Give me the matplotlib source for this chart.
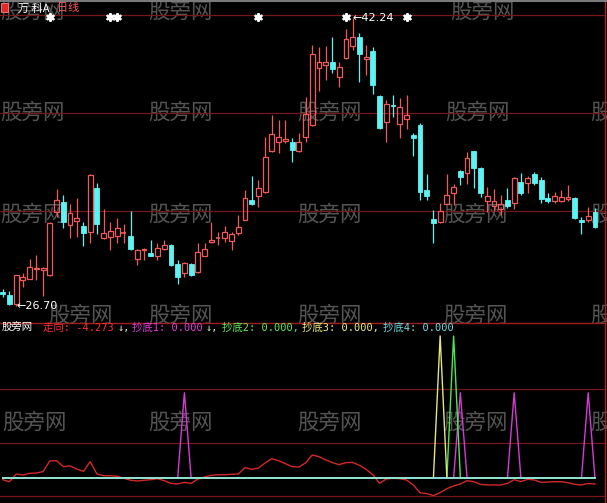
import matplotlib
matplotlib.use("Agg")
import matplotlib.pyplot as plt
from matplotlib.patches import Rectangle
from matplotlib.lines import Line2D
from matplotlib.transforms import blended_transform_factory

# ---- daily bars: 万科A ----
opens = [27.45, 27.29, 26.81, 28.09, 28.17, 28.68, 28.64, 28.36, 31.79, 32.33,
         31.05, 31.30, 31.01, 30.69, 33.05, 30.35, 30.44, 30.48, 30.62, 30.48,
         29.22, 29.72, 29.58, 29.40, 29.79, 29.99, 28.97, 28.50, 28.97, 28.55,
         29.40, 30.17, 30.35, 30.35, 30.22, 30.62, 31.34, 32.42, 32.65, 32.87,
         35.08, 35.57, 35.60, 35.53, 35.06, 35.80, 36.47, 39.53, 39.70, 39.88,
         39.04, 40.07, 40.73, 41.23, 40.03, 40.46, 38.03, 36.61, 37.55, 36.52,
         36.79, 35.93, 36.47, 32.96, 31.39, 31.25, 32.20, 32.78, 34.00, 33.86,
         35.06, 34.13, 32.38, 32.10, 31.92, 32.42, 32.24, 33.37, 33.32, 33.82,
         33.50, 32.51, 32.37, 32.37, 32.49, 32.54, 31.34, 31.34, 31.79]
highs = [27.64, 27.51, 28.38, 28.50, 29.24, 29.45, 28.80, 31.22, 33.01, 32.69,
         32.20, 32.51, 31.25, 33.80, 33.32, 31.92, 31.25, 31.43, 31.12, 31.82,
         29.79, 29.83, 30.26, 30.08, 30.26, 30.02, 29.18, 29.09, 29.00, 30.08,
         30.08, 31.25, 30.71, 31.01, 30.71, 31.61, 32.96, 33.71, 33.50, 35.83,
         37.01, 36.74, 36.74, 35.75, 36.02, 37.99, 40.78, 40.69, 40.73, 41.23,
         39.88, 41.63, 42.24, 41.43, 40.78, 40.69, 38.06, 37.82, 38.08, 37.91,
         38.08, 36.05, 36.56, 33.82, 31.88, 32.27, 33.82, 33.28, 34.04, 35.03,
         35.08, 34.22, 33.14, 33.00, 32.69, 33.08, 33.64, 33.86, 33.73, 33.91,
         33.64, 32.78, 32.87, 32.96, 33.23, 32.56, 31.52, 32.06, 31.97]
lows = [27.19, 26.75, 26.70, 27.71, 28.14, 28.10, 27.26, 28.33, 31.52, 30.89,
        30.35, 30.41, 29.94, 30.12, 30.58, 30.30, 29.72, 30.08, 30.08, 29.72,
        28.91, 29.18, 29.38, 29.18, 29.72, 28.88, 27.89, 28.25, 28.32, 28.46,
        29.38, 30.12, 29.99, 30.17, 29.72, 30.52, 31.32, 32.15, 32.03, 32.78,
        35.03, 34.94, 35.48, 34.49, 35.03, 35.57, 36.41, 38.32, 38.89, 39.29,
        38.53, 40.01, 40.51, 38.80, 39.16, 38.14, 36.25, 35.57, 36.91, 35.75,
        36.23, 34.79, 32.42, 32.42, 30.12, 31.19, 32.18, 32.15, 33.23, 33.28,
        33.05, 32.60, 31.79, 31.84, 31.61, 31.97, 31.92, 32.69, 32.78, 33.23,
        32.24, 32.27, 32.24, 32.33, 32.37, 31.41, 30.58, 31.25, 30.89]
closes = [27.33, 26.81, 28.36, 28.26, 28.79, 28.75, 28.75, 31.19, 32.42, 31.25,
          31.70, 31.43, 30.62, 33.77, 31.12, 30.62, 30.73, 30.89, 30.65, 29.76,
          29.72, 29.79, 29.40, 29.81, 29.99, 28.91, 28.28, 29.00, 28.37, 29.63,
          29.76, 30.26, 30.41, 30.71, 30.58, 30.95, 32.51, 32.20, 33.05, 34.76,
          35.96, 35.80, 35.69, 35.12, 35.53, 37.06, 40.28, 39.85, 39.85, 39.47,
          39.58, 41.09, 41.20, 40.28, 40.12, 38.62, 36.29, 37.58, 37.49, 37.42,
          37.01, 35.78, 32.87, 32.65, 31.16, 31.83, 32.69, 33.14, 33.68, 34.67,
          34.13, 32.81, 32.64, 32.37, 32.19, 32.11, 33.59, 32.78, 33.59, 33.35,
          32.46, 32.37, 32.64, 32.60, 32.56, 31.43, 31.25, 31.56, 30.95]

# signal days marked with a star above the bars
star_days = [7, 16, 17, 38, 51, 60]

# ---- indicator 股旁网 ----
zouxiang = [-1.2, -2.6, 2.8, 2.1, 3.3, 3.5, 4.5, 12.0, 12.2, 8.0,
            8.5, 6.3, 4.7, 11.5, 2.8, 1.6, 1.6, 1.2, -0.2, -1.6,
            -2.1, -1.6, -1.2, -0.5, -1.9, -3.8, -4.2, -3.1, -3.8, -0.7,
            0.7, 1.9, 2.3, 2.3, 2.6, 2.8, 7.3, 6.1, 7.0, 10.6,
            13.6, 12.2, 10.1, 8.0, 7.7, 10.6, 16.2, 15.0, 12.7, 10.8,
            9.4, 10.8, 11.0, 8.9, 6.1, 2.3, -3.8, -0.7, -0.2, -0.5,
            -1.4, -4.9, -10.3, -11.0, -12.4, -10.3, -7.5, -5.6, -4.2, -1.9,
            -2.6, -4.5, -4.9, -4.9, -4.9, -3.8, -1.2, -2.6, -0.9, -1.4,
            -3.1, -2.8, -2.6, -2.6, -3.3, -4.5, -4.9, -3.8, -4.273]
chaodi1 = [0, 0, 0, 0, 0, 0, 0, 0, 0, 0,
           0, 0, 0, 0, 0, 0, 0, 0, 0, 0,
           0, 0, 0, 0, 0, 0, 0, 60, 0, 0,
           0, 0, 0, 0, 0, 0, 0, 0, 0, 0,
           0, 0, 0, 0, 0, 0, 0, 0, 0, 0,
           0, 0, 0, 0, 0, 0, 0, 0, 0, 0,
           0, 0, 0, 0, 0, 0, 0, 0, 60, 0,
           0, 0, 0, 0, 0, 0, 60, 0, 0, 0,
           0, 0, 0, 0, 0, 0, 0, 60, 0]
chaodi2 = [0, 0, 0, 0, 0, 0, 0, 0, 0, 0,
           0, 0, 0, 0, 0, 0, 0, 0, 0, 0,
           0, 0, 0, 0, 0, 0, 0, 0, 0, 0,
           0, 0, 0, 0, 0, 0, 0, 0, 0, 0,
           0, 0, 0, 0, 0, 0, 0, 0, 0, 0,
           0, 0, 0, 0, 0, 0, 0, 0, 0, 0,
           0, 0, 0, 0, 0, 0, 0, 100, 0, 0,
           0, 0, 0, 0, 0, 0, 0, 0, 0, 0,
           0, 0, 0, 0, 0, 0, 0, 0, 0]
chaodi3 = [0, 0, 0, 0, 0, 0, 0, 0, 0, 0,
           0, 0, 0, 0, 0, 0, 0, 0, 0, 0,
           0, 0, 0, 0, 0, 0, 0, 0, 0, 0,
           0, 0, 0, 0, 0, 0, 0, 0, 0, 0,
           0, 0, 0, 0, 0, 0, 0, 0, 0, 0,
           0, 0, 0, 0, 0, 0, 0, 0, 0, 0,
           0, 0, 0, 0, 0, 100, 0, 0, 0, 0,
           0, 0, 0, 0, 0, 0, 0, 0, 0, 0,
           0, 0, 0, 0, 0, 0, 0, 0, 0]
chaodi4 = [0] * 89

# ---- styling ----
UP = "#f05a5a"
DOWN = "#5ff2f2"
GRID = "#761818"
LINE_RED = "#d42828"
MAGENTA = "#d53ad5"
GREEN = "#4ee84e"
YELLOW = "#e6e67a"
CYAN_LINE = "#86e2e2"
WM = "#545454"

plt.rcParams["font.family"] = ["DejaVu Sans", "Noto Sans CJK SC"]

W, H = 607, 503
fig = plt.figure(figsize=(W / 100, H / 100), dpi=100, facecolor="black")


def panel(top, bottom):
    a = fig.add_axes([0, 1 - bottom / H, 1, (bottom - top) / H])
    a.set_facecolor("none")
    a.set_axis_off()
    return a


ax = panel(0, 322)
ax2 = panel(322, 503)

step = 6.73
x0 = 2.7
xlim = (-x0 / step, (W - x0) / step)
for a in (ax, ax2):
    a.set_xlim(*xlim)
ax.set_ylim(25.836, 43.211)
ax2.set_ylim(-17.61, 109.86)


def fx(px):
    return px / W


def fy(py):
    return 1 - py / H


# watermarks
wm_spots = [(0, 12), (148, 12), (450, 12),
            (0, 113), (148, 113), (297, 113), (445, 113), (590, 113),
            (0, 215), (148, 215), (297, 215), (443, 215), (590, 215),
            (48, 316), (148, 316), (297, 316), (443, 316), (590, 316),
            (2, 423), (148, 423), (297, 423), (443, 423), (590, 423)]
for (px, py) in wm_spots:
    host = ax if py < 322 else ax2
    host.text(fx(px), fy(py), "股旁网", transform=fig.transFigure, color=WM,
              fontsize=15.5, family=["Noto Sans CJK SC"], va="center",
              ha="left", zorder=0.5)

# grid lines
for f in (1 - 15 / 322, 1 - 113 / 322, 1 - 211 / 322):
    ax.plot([0, 604 / W], [f, f], transform=ax.transAxes, color=GRID, lw=0.9,
            zorder=1)
for f in (1 - 67 / 181, 1 - 121 / 181, 1 - 174 / 181):
    ax2.plot([0, 604 / W], [f, f], transform=ax2.transAxes, color=GRID, lw=0.9,
             zorder=1)
fig.add_artist(Line2D([0, 604 / W], [fy(322.5)] * 2, color="#a01e1e", lw=1.0))
fig.add_artist(Line2D([fx(604.5)] * 2, [0, 1], color="#b01e1e", lw=1.0))
fig.add_artist(Line2D([0, 1], [fy(0.6)] * 2, color="#7a7a7a", lw=1.5))

# candlesticks
bw = 0.72
for i, (o, h, l, c) in enumerate(zip(opens, highs, lows, closes)):
    if c >= o:
        ax.vlines(i, c, h, color=UP, lw=0.9, zorder=3)
        ax.vlines(i, l, o, color=UP, lw=0.9, zorder=3)
        if c - o < 0.06:
            ax.hlines((o + c) / 2, i - bw / 2, i + bw / 2, color=UP, lw=1.2,
                      zorder=3)
        else:
            ax.add_patch(Rectangle((i - bw / 2, o), bw, c - o, fill=False,
                                   edgecolor=UP, lw=0.9, zorder=3))
    else:
        ax.vlines(i, l, h, color=DOWN, lw=0.9, zorder=3)
        ax.add_patch(Rectangle((i - bw / 2, c), bw, max(o - c, 0.05),
                               facecolor=DOWN, edgecolor=DOWN, lw=0.6,
                               zorder=3))

# stars
tr = blended_transform_factory(ax.transData, ax.transAxes)
ax.scatter(star_days, [1 - 17 / 322] * len(star_days), transform=tr,
           marker=(6, 2, 0), s=22, color="white", linewidths=1.8, zorder=4)

# high / low labels
i_hi = max(range(len(highs)), key=lambda k: highs[k])
i_lo = min(range(len(lows)), key=lambda k: lows[k])
ax.text(i_hi + 0.05, highs[i_hi], f"←{highs[i_hi]:.2f}", color="white",
        fontsize=8, va="center", ha="left", zorder=5)
ax.text(i_lo + 0.05, lows[i_lo], f"←{lows[i_lo]:.2f}", color="white",
        fontsize=8, va="center", ha="left", zorder=5)

# title
fig.add_artist(Rectangle((fx(1), fy(12)), 7 / W, 9 / H, transform=fig.transFigure,
                         facecolor="#e02a2a", edgecolor="#ff8080", lw=0.6))
fig.text(fx(18), fy(8.5), "万 科A", color="white", fontsize=8,
         family=["Noto Sans CJK SC", "DejaVu Sans"], va="center", ha="left")
fig.text(fx(57), fy(8.5), "日线", color="#ff5c5c", fontsize=8,
         family=["Noto Sans CJK SC"], va="center", ha="left")

# indicator lines
days = list(range(len(zouxiang)))
ax2.plot(days, zouxiang, color=LINE_RED, lw=1.0, zorder=3)
ax2.plot(days, chaodi1, color=MAGENTA, lw=1.0, zorder=3)
ax2.plot(days, chaodi2, color=GREEN, lw=1.0, zorder=3)
ax2.plot(days, chaodi3, color=YELLOW, lw=1.0, zorder=3)
ax2.plot(days, chaodi4, color=CYAN_LINE, lw=1.2, zorder=4)

# indicator legend
mono = ["DejaVu Sans Mono", "Noto Sans CJK SC"]
legend_parts = [
    (2, "股旁网", "white"),
    (43, f"走向: {zouxiang[-1]:.3f}", "#ff2e2e"),
    (118, "↓,", "#e0f0e0"),
    (132, f"抄底1: {chaodi1[-1]:.3f}", "#e040e0"),
    (206, "↓,", "#e0f0e0"),
    (222, f"抄底2: {chaodi2[-1]:.3f},", "#5cf05c"),
    (302, f"抄底3: {chaodi3[-1]:.3f},", "#f0f080"),
    (383, f"抄底4: {chaodi4[-1]:.3f}", "#70dede"),
]
for px, s, col in legend_parts:
    fig.text(fx(px), fy(328), s, color=col, fontsize=7.5, family=mono,
             va="center", ha="left")

fig.savefig("out.png", dpi=100, facecolor="black")
